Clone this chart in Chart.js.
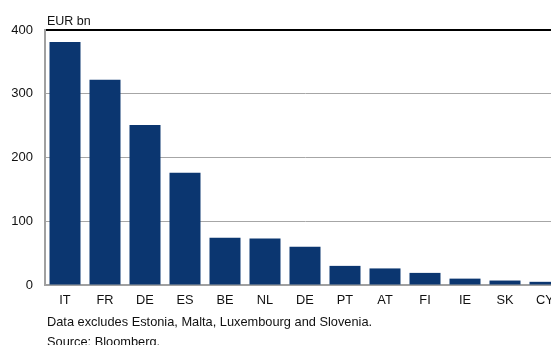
<!DOCTYPE html>
<html>
<head>
<meta charset="utf-8">
<script src="https://cdn.jsdelivr.net/npm/chart.js@4"></script>
<style>
  html, body { margin: 0; padding: 0; background: #fff; overflow: hidden; }
  #wrap { position: relative; width: 566px; height: 345px; }
</style>
</head>
<body>
<div id="wrap"><canvas id="myChart"></canvas></div>
<script>
const categories = ['IT', 'FR', 'DE', 'ES', 'BE', 'NL', 'DE', 'PT', 'AT', 'FI', 'IE', 'SK', 'CY'];
const holdings = [381, 322, 251, 176, 74, 73, 60, 30, 26, 19, 10, 7, 5];
const yTicks = [0, 100, 200, 300, 400];
const unitLabel = 'EUR bn';
const notes = ['Data excludes Estonia, Malta, Luxembourg and Slovenia.', 'Source: Bloomberg.'];

const font = 'Arial, "Liberation Sans", sans-serif';

// unit label above the plot and the notes under the axis
const annotations = {
    id: 'annotations',
    afterDraw(chart) {
        const c = chart.ctx;
        const area = chart.chartArea;
        c.save();
        c.fillStyle = '#111';
        c.textBaseline = 'middle';
        c.textAlign = 'left';
        c.font = '12.5px ' + font;
        c.fillText(unitLabel, area.left + 2, 22);
        c.font = '12.8px ' + font;
        c.fillText(notes[0], area.left + 2, 322);
        c.fillText(notes[1], area.left + 2, 342);
        c.restore();
    }
};

const ctx = document.getElementById('myChart');

new Chart(ctx, {
    type: 'bar',
    data: {
        labels: categories,
        datasets: [{
            data: holdings,
            backgroundColor: '#0b3670',
            borderWidth: 0,
            categoryPercentage: 1,
            barPercentage: 0.775
        }]
    },
    options: {
        responsive: true,
        maintainAspectRatio: false,
        animation: false,
        layout: { padding: { top: 30, right: 1, bottom: 0, left: 0 } },
        plugins: {
            legend: { display: false },
            tooltip: { enabled: false }
        },
        scales: {
            x: {
                grid: { display: false, drawTicks: false },
                border: { color: '#a0a0a0', width: 2 },
                ticks: {
                    color: '#111',
                    font: { family: font, size: 12.8 },
                    padding: 8,
                    maxRotation: 0,
                    autoSkip: false
                },
                afterFit(scale) { scale.height = 60; }
            },
            y: {
                min: 0,
                max: 400,
                afterBuildTicks(scale) {
                    scale.ticks = yTicks.map(v => ({ value: v }));
                },
                grid: {
                    drawTicks: false,
                    color: c => c.tick && c.tick.value === 400 ? '#000' : '#a6a6a6',
                    lineWidth: c => c.tick && c.tick.value === 400 ? 2 : 1
                },
                border: { color: '#a0a0a0', width: 2 },
                ticks: {
                    color: '#111',
                    font: { family: font, size: 13 },
                    padding: 12
                },
                afterFit(scale) { scale.width = 45; }
            }
        }
    },
    plugins: [annotations]
});
</script>
</body>
</html>
